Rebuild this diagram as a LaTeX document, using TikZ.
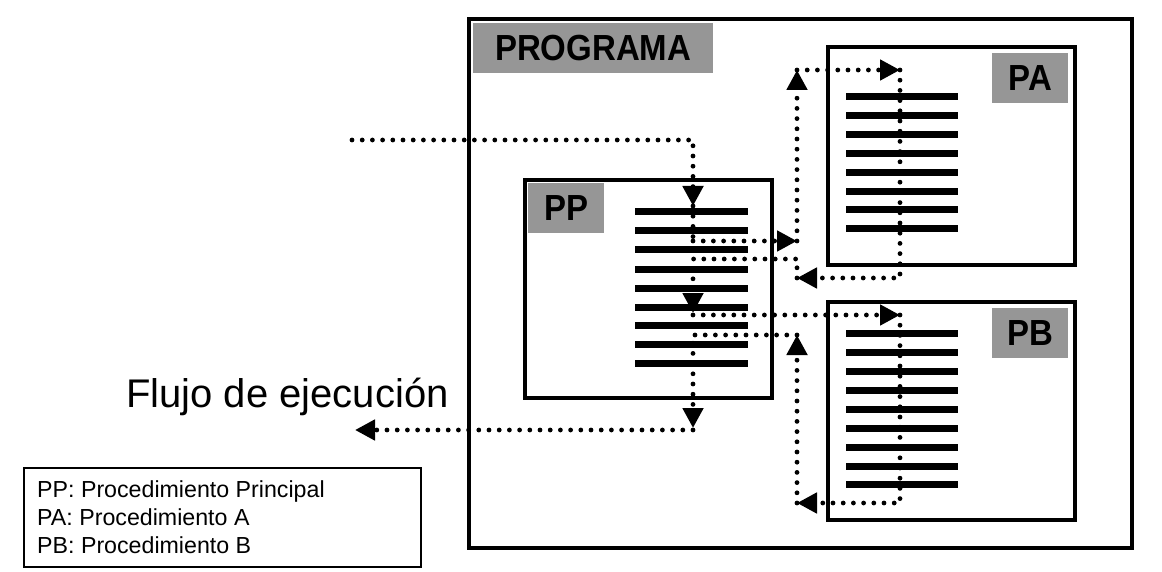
\documentclass[tikz,border=0pt]{standalone}
\usepackage{fontspec}
\setmainfont{Liberation Sans}
\usetikzlibrary{arrows.meta}
\definecolor{labgray}{RGB}{150,150,150}
\newcommand{\tallbold}[1]{\scalebox{1}[1.1]{#1}}
\tikzset{
  box/.style={draw, line width=4pt, anchor=north west, inner sep=0pt},
  labbox/.style={fill=labgray, anchor=north west, inner sep=0pt, font=\fontsize{33}{36}\selectfont\bfseries},
  bar/.style={line width=7pt},
  flow/.style={line width=4.8pt, dash pattern=on 0pt off 10.2pt, line cap=round},
  tip/.style={-{Triangle[length=20pt,width=20pt]}},
  legtext/.style={anchor=base west, inner sep=0pt, font=\fontsize{23.2}{28}\selectfont},
}
\begin{document}
\begin{tikzpicture}[x=1pt,y=-1pt]
\useasboundingbox (0,0) rectangle (1162,572);
% boxes
\node[box, minimum width=663pt, minimum height=529pt] (prog) at (467,17) {};
\node[labbox, minimum width=240pt, minimum height=50pt] (progl) at (473,23) {\tallbold{PROGRAMA}};
\node[box, minimum width=247pt, minimum height=218pt] (PP) at (523,178) {};
\node[labbox, minimum width=76pt, minimum height=50pt] (PPl) at (528,183) {\tallbold{PP}};
\node[box, minimum width=247pt, minimum height=218pt] (PA) at (826,45) {};
\node[labbox, minimum width=76pt, minimum height=50pt] (PAl) at (992,53) {\tallbold{PA}};
\node[box, minimum width=247pt, minimum height=218pt] (PB) at (826,300) {};
\node[labbox, minimum width=76pt, minimum height=50pt] (PBl) at (992,308) {\tallbold{PB}};
% bars
\foreach \y in {212,231,250,269,288,307,325,344,363} \draw[bar] (635,\y) -- (748,\y);
\foreach \y in {97,116,135,154,173,192,210,229} \draw[bar] (846,\y) -- (958,\y);
\foreach \y in {333,352,371,390,409,428,447,466,484} \draw[bar] (846,\y) -- (958,\y);
% flow coordinates
\coordinate (s0) at (352,140);
\coordinate (s1) at (693,140);
\coordinate (s2) at (693,206);
\coordinate (c1) at (693,241);
\coordinate (c2) at (797,241);
\coordinate (c3) at (797,70);
\coordinate (c4) at (900,70);
\coordinate (c5) at (900,278);
\coordinate (c6) at (797,278);
\coordinate (c7) at (797,259);
\coordinate (c8) at (693,259);
\coordinate (c9) at (693,313);
\coordinate (d1) at (693,315);
\coordinate (d2) at (900,315);
\coordinate (d3) at (900,503);
\coordinate (d4) at (797,503);
\coordinate (d5) at (797,335);
\coordinate (d6) at (693,335);
\coordinate (d7) at (693,428);
\coordinate (e1) at (693,430);
\coordinate (e2) at (355,430);
% flow
\draw[flow, tip] (s0) -- (s1) -- (s2);
\draw[flow] (s2) -- (c1);
\draw[flow, tip] (c1) -- (c2);
\draw[flow, tip] (c2) -- (c3);
\draw[flow, tip] (c3) -- (c4);
\draw[flow, tip] (c4) -- (c5) -- (c6);
\draw[flow, tip] (c6) -- (c7) -- (c8) -- (c9);
\draw[flow, tip] (d1) -- (d2);
\draw[flow, tip] (d2) -- (d3) -- (d4);
\draw[flow, tip] (d4) -- (d5);
\draw[flow, tip] (d5) -- (d6) -- (d7);
\draw[flow, tip] (e1) -- (e2);
% texts
\node[anchor=base west, inner sep=0pt, font=\fontsize{40}{44}\selectfont] (flujo) at (126,407) {Flujo de ejecución};
\node[draw, line width=2pt, anchor=north west, inner sep=0pt, minimum width=397pt, minimum height=99pt] (leg) at (23,467) {};
\node[legtext] (leg1) at (37,497) {PP: Procedimiento Principal};
\node[legtext] (leg2) at (37,525) {PA: Procedimiento A};
\node[legtext] (leg3) at (37,553) {PB: Procedimiento B};
\end{tikzpicture}
\end{document}
